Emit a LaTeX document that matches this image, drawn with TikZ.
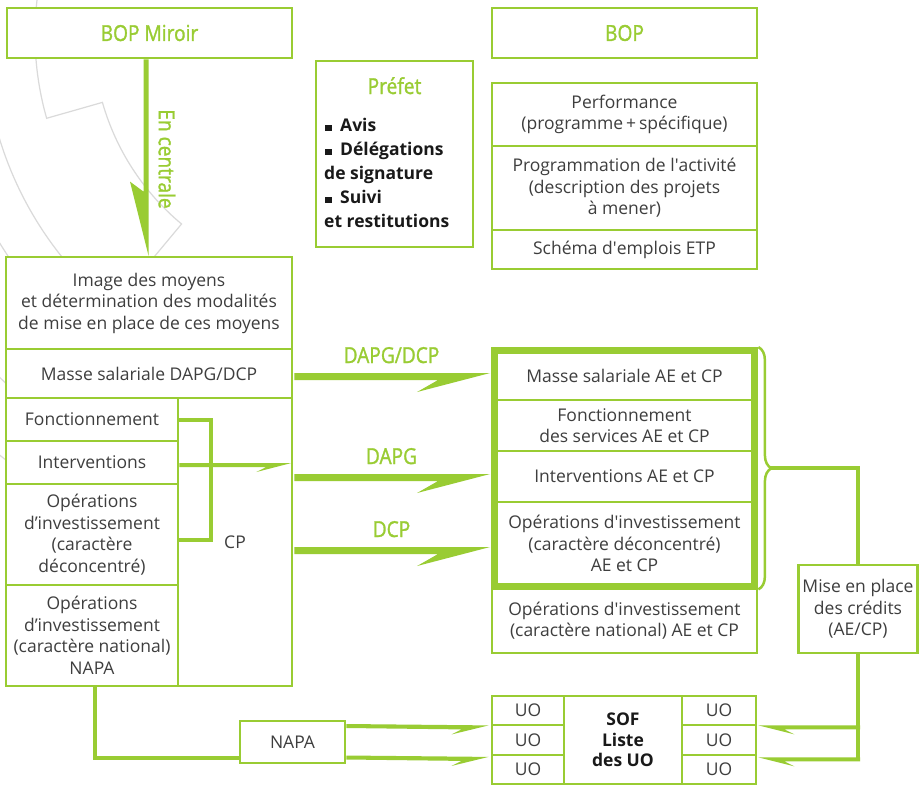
\documentclass[tikz,border=0pt]{standalone}
\usepackage{fontspec}
\setmainfont{Open Sans}
\newfontfamily\gfont[FakeBold=1.3,FakeStretch=0.87]{Open Sans}
\usetikzlibrary{calc,decorations.pathreplacing}
\definecolor{gr}{RGB}{153,204,51}
\definecolor{tx}{RGB}{62,62,62}
\definecolor{bk}{RGB}{25,25,25}
\definecolor{gy}{RGB}{218,218,218}
% rightward harpoon: #1 start (centre line), #2 tip (centre line), #3 half width, #4 barb back, #5 barb drop from top edge, #6 notch back
\newcommand\harpR[6]{\fill[gr] ($#1+(0,-#3)$) -- ($#2+(0,-#3)$) -- ($#2+(-#4,#5-#3)$) -- ($#2+(-#6,#3)$) -- ($#1+(0,#3)$) -- cycle;}
\newcommand\harpL[6]{\fill[gr] ($#1+(0,-#3)$) -- ($#2+(0,-#3)$) -- ($#2+(#4,#5-#3)$) -- ($#2+(#6,#3)$) -- ($#1+(0,#3)$) -- cycle;}
\newcommand\blt{\rule{7pt}{6.5pt}\hspace{8pt}}
\begin{document}
\begin{tikzpicture}[x=1pt,y=-1pt,
  box/.style={draw=gr, line width=2.8pt, fill=white, text=tx, align=center, inner sep=0pt,
    font=\fontsize{17.5}{21.5}\selectfont},
  gbox/.style={box, text=gr, font=\gfont\fontsize{22}{24}\selectfont},
  glabel/.style={text=gr, inner sep=0pt, font=\gfont\fontsize{22}{24}\selectfont},
  conn/.style={draw=gr, line width=4pt},
  gear/.style={draw=gy, line width=1.2pt},
  pl/.style={text=bk, inner sep=0pt, anchor=base west, font=\bfseries\fontsize{17.5}{24}\selectfont},
  bbox/.style={box, text=bk, font=\bfseries\fontsize{17.5}{20.5}\selectfont}]
\useasboundingbox[fill=white] (0,0) rectangle (924,785);
% background gear
\begin{scope}
\clip (0,0) rectangle (924,785);
\draw[gear] (339,35) ++(192:304) arc[start angle=192,end angle=164.1,radius=304]
  -- ($(339,35)+(164.1:246)$) arc[start angle=164.1,end angle=129.8,radius=246]
  -- ($(339,35)+(129.8:304)$) arc[start angle=129.8,end angle=110,radius=304];
\draw[gear] (339,35) ++(174:355) arc[start angle=174,end angle=128,radius=355];
\draw[gear] (339,35) ++(152:398) arc[start angle=152,end angle=140,radius=398];
\draw[gear] (339,35) ++(138:482) arc[start angle=138,end angle=128,radius=482];
\draw[gear] (339,35) ++(132:540) arc[start angle=132,end angle=122,radius=540];
\end{scope}
% top boxes
\node[gbox, minimum width=285pt, minimum height=50pt] (bopm) at (149.5,33) {BOP Miroir};
\node[gbox, minimum width=265pt, minimum height=50pt] (bop) at (624.5,33) {BOP};
\node[box, minimum width=157pt, minimum height=186pt] (pref) at (394.5,154) {};
\node[glabel, anchor=base] (preft) at (394.5,94) {Préfet};
\node[pl] (p1) at (325,131) {\blt Avis};
\node[pl] (p2) at (325,155) {\blt Délégations};
\node[pl] (p3) at (324,179) {de signature};
\node[pl] (p4) at (325,203) {\blt Suivi};
\node[pl] (p5) at (324,227) {et restitutions};
\node[box, minimum width=265pt, minimum height=63pt] (perf) at (624.5,114.5) {Performance\\(programme\,+\,spécifique)};
\node[box, minimum width=265pt, minimum height=84pt] (prog) at (624.5,188) {Programmation de l\textquotesingle activité\\(description des projets\\à mener)};
\node[box, minimum width=265pt, minimum height=39pt] (schema) at (624.5,249.5) {Schéma d\textquotesingle emplois ETP};
% left block
\node[box, minimum width=286pt, minimum height=92pt] (img) at (149,303) {Image des moyens\\et détermination des modalités\\de mise en place de ces moyens};
\node[box, minimum width=286pt, minimum height=49pt] (masse) at (149,373.5) {Masse salariale DAPG/DCP};
\node[box, minimum width=172pt, minimum height=43pt] (fonc) at (92,419.5) {Fonctionnement};
\node[box, minimum width=172pt, minimum height=43pt] (interv) at (92,462.5) {Interventions};
\node[box, minimum width=172pt, minimum height=101pt] (opdec) at (92,534.5) {Opérations\\d’investissement\\(caractère\\déconcentré)};
\node[box, minimum width=172pt, minimum height=101pt] (opnat) at (92,635.5) {Opérations\\d’investissement\\(caractère national)\\NAPA};
\node[box, minimum width=114pt, minimum height=288pt] (cp) at (235,542) {CP};
% right block
\node[box, minimum width=258pt, minimum height=48.5pt] (rmasse) at (624.5,375.75) {Masse salariale AE et CP};
\node[box, minimum width=258pt, minimum height=51pt] (rfonc) at (624.5,425.5) {Fonctionnement\\des services AE et CP};
\node[box, minimum width=258pt, minimum height=51pt] (rinterv) at (624.5,476.5) {Interventions AE et CP};
\node[box, minimum width=258pt, minimum height=83pt] (ropdec) at (624.5,543.5) {Opérations d\textquotesingle investissement\\(caractère déconcentré)\\AE et CP};
\node[box, minimum width=265pt, minimum height=65pt] (ronat) at (624.5,620.5) {Opérations d\textquotesingle investissement\\(caractère national) AE et CP};
\draw[gr, line width=7pt] (rmasse.north west) rectangle (ropdec.south east);
\node[box, minimum width=119pt, minimum height=88pt] (mise) at (858,609) {Mise en place\\des crédits\\(AE/CP)};
% SOF block
\node[box, minimum width=72pt, minimum height=29pt] (uoL1) at (528,710.5) {UO};
\node[box, minimum width=72pt, minimum height=30pt] (uoL2) at (528,740) {UO};
\node[box, minimum width=72pt, minimum height=29pt] (uoL3) at (528,769.5) {UO};
\node[bbox, minimum width=118pt, minimum height=88pt] (sof) at (623,740) {SOF\\Liste\\des UO};
\node[box, minimum width=74pt, minimum height=29pt] (uoR1) at (719,710.5) {UO};
\node[box, minimum width=74pt, minimum height=30pt] (uoR2) at (719,740) {UO};
\node[box, minimum width=74pt, minimum height=29pt] (uoR3) at (719,769.5) {UO};
\node[box, minimum width=105pt, minimum height=42pt] (napa) at (292.5,742) {NAPA};
% down arrow
\fill[gr] ($(bopm.south)+(-6,0)$) -- ($(bopm.south)+(-1,0)$) -- ($(img.north)+(-0.5,0)$)
  -- ($(img.north)+(-19,-74)$) -- ($(img.north)+(-5.5,-64)$) -- cycle;
\node[glabel, rotate=-90] (enc) at (167,159) {En centrale};
% big arrows
\coordinate (a1s) at ($(masse.east)+(1,3)$);
\coordinate (a1t) at ($(rmasse.west)+(-4,0.75)$);
\harpR{(a1s)}{(a1t)}{3.5}{73}{19}{52}
\coordinate (a2s) at ($(cp.east)+(1,-64.5)$);
\coordinate (a2t) at ($(rinterv.west)+(-4,1)$);
\harpR{(a2s)}{(a2t)}{3.5}{73}{19}{52}
\coordinate (a3s) at ($(cp.east)+(1,8.5)$);
\coordinate (a3t) at ($(ropdec.west)+(-4,7)$);
\harpR{(a3s)}{(a3t)}{3.5}{73}{19}{52}
\node[glabel, anchor=base] (l1) at (391.5,363) {DAPG/DCP};
\node[glabel, anchor=base] (l2) at (391.5,464) {DAPG};
\node[glabel, anchor=base] (l3) at (391.5,537) {DCP};
% interventions arrow and CP bracket
\coordinate (ia) at ($(interv.east)+(0,2.5)$);
\coordinate (it) at ($(interv.east -| cp.east)+(-2,2.5)$);
\harpR{(ia)}{(it)}{2}{35}{9}{25}
\draw[conn] (fonc.east) -- ++(32,0) |- ($(opdec.east)+(0,5.5)$);
% NAPA
\draw[conn] ($(opnat.south)+(3,0)$) |- ($(napa.west)+(0,16)$);
\coordinate (n1s) at ($(napa.east)+(0,-16)$);
\coordinate (n1t) at ($(uoL1.south west)+(-2,1)$);
\harpR{(n1s)}{(n1t)}{2}{37}{9}{27}
\coordinate (n2s) at ($(napa.east)+(0,15.5)$);
\coordinate (n2t) at ($(uoL2.south west)+(-2,2.5)$);
\harpR{(n2s)}{(n2t)}{2}{37}{9}{27}
% brace and mise en place
\draw[gr, line width=2.5pt, decorate, decoration={brace, amplitude=13pt}]
  ($(rmasse.north east)+(3.5,-3)$) -- ($(ropdec.south east)+(3.5,3)$);
\coordinate (brtip) at ($(rmasse.north east)!0.5!(ropdec.south east)+(16.5,0)$);
\draw[conn] (brtip) -| (mise.north);
\draw[conn] (mise.south) -- ($(mise.south)+(0,107)$);
\coordinate (m1s) at ($(mise.south)+(2,73)$);
\coordinate (m1t) at ($(uoR1.south east)+(1,1)$);
\harpL{(m1s)}{(m1t)}{2}{36}{9}{26}
\coordinate (m2s) at ($(mise.south)+(2,105)$);
\coordinate (m2t) at ($(uoR2.south east)+(1,3)$);
\harpL{(m2s)}{(m2t)}{2}{36}{9}{26}
\end{tikzpicture}
\end{document}
